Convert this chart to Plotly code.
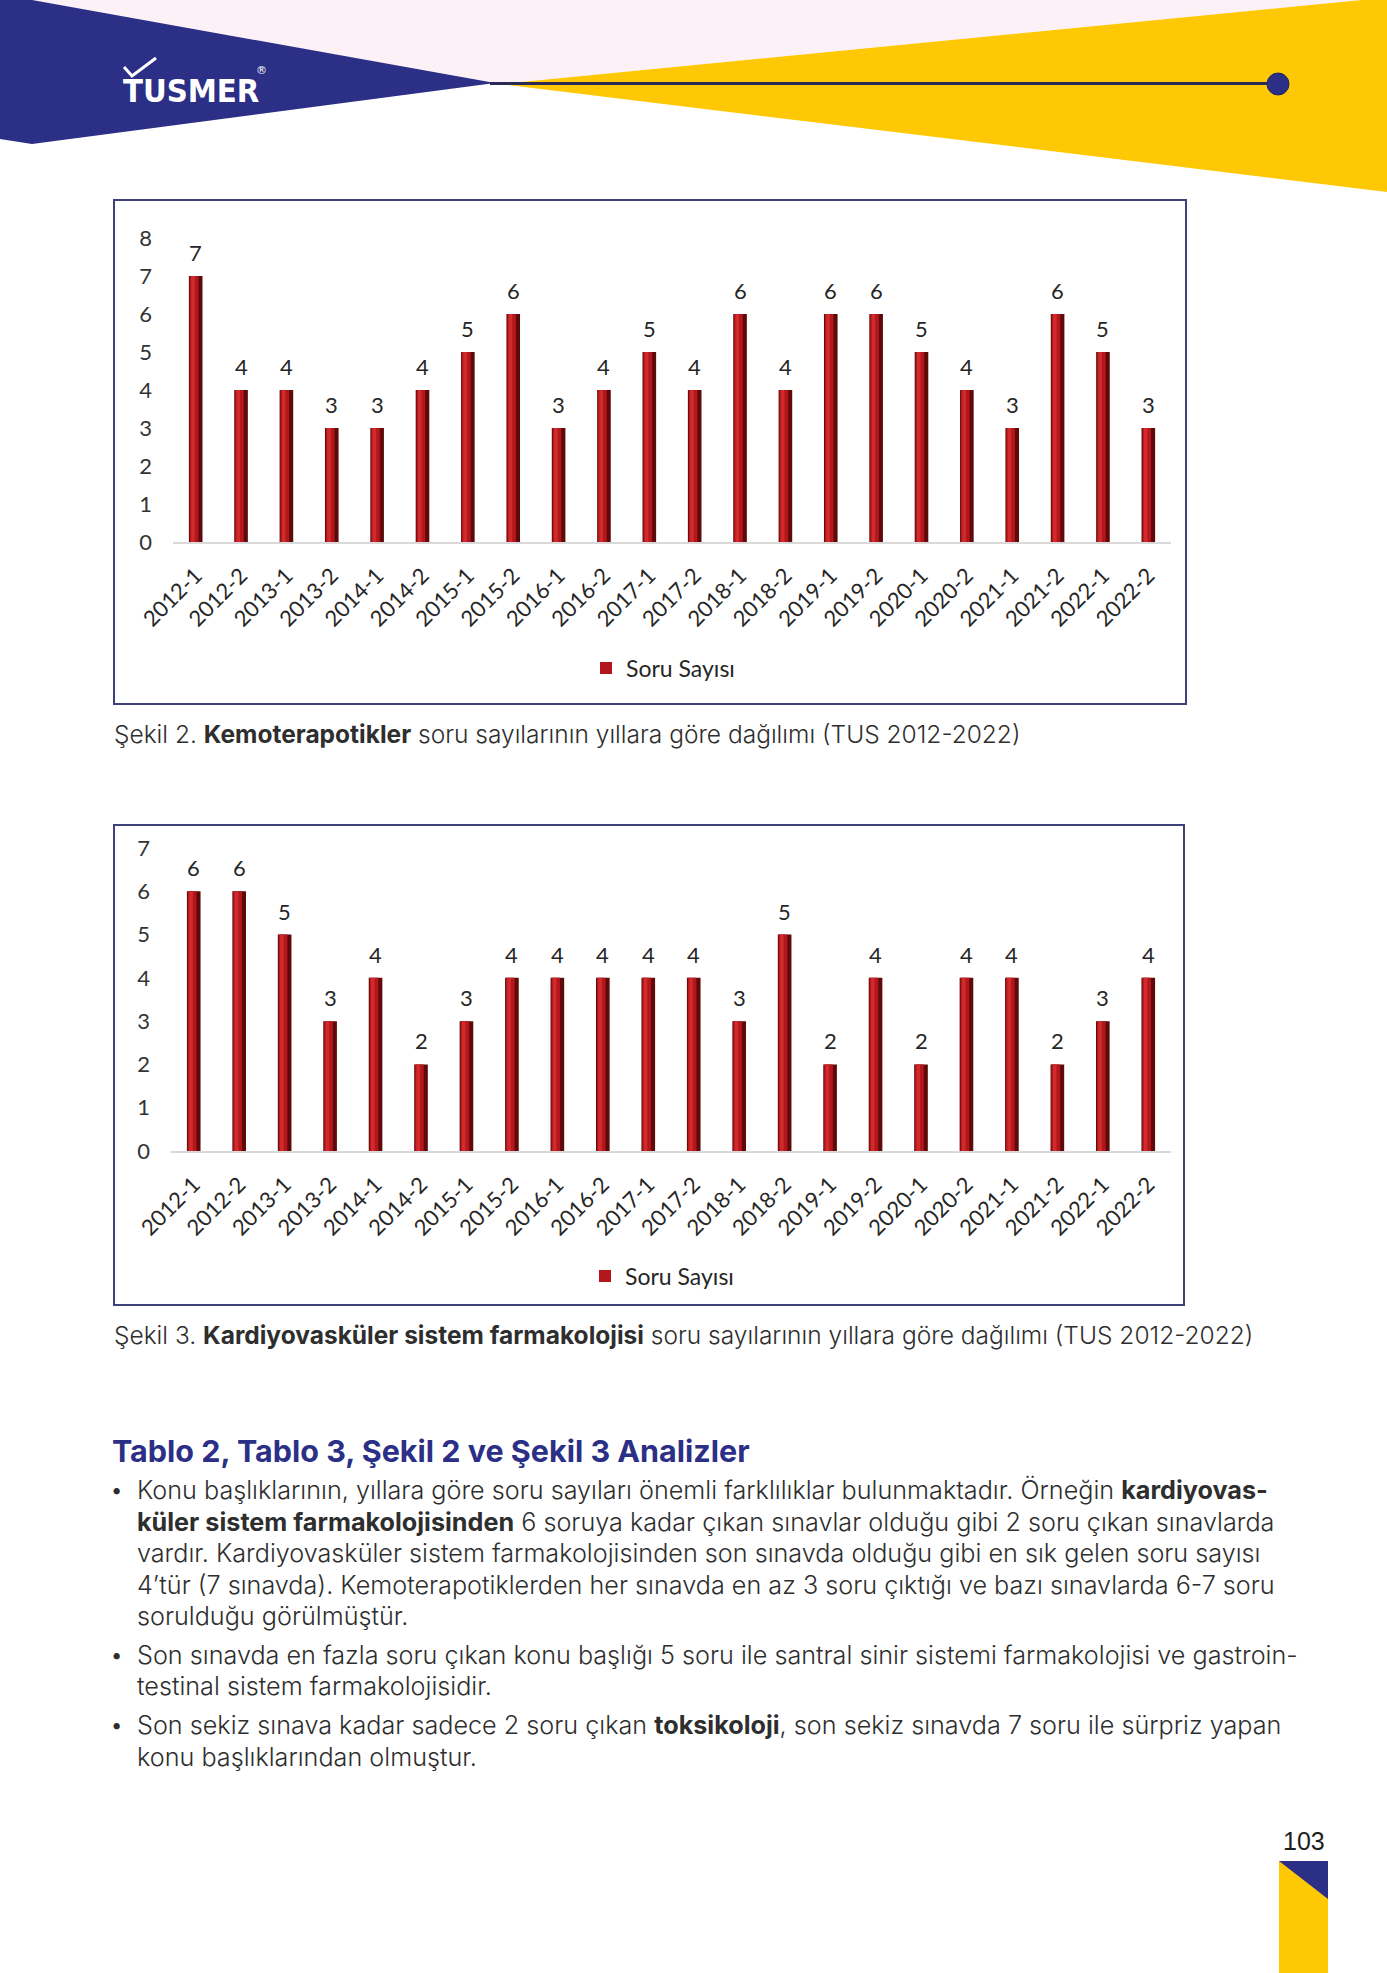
import plotly.graph_objects as go

W, H = 1387, 1973


def px(x):
    return x / W


def py(y):
    return 1 - y / H


# ---------------- data ----------------
categories = ["2012-1", "2012-2", "2013-1", "2013-2", "2014-1", "2014-2", "2015-1", "2015-2",
              "2016-1", "2016-2", "2017-1", "2017-2", "2018-1", "2018-2", "2019-1", "2019-2",
              "2020-1", "2020-2", "2021-1", "2021-2", "2022-1", "2022-2"]
kemo_values = [7, 4, 4, 3, 3, 4, 5, 6, 3, 4, 5, 4, 6, 4, 6, 6, 5, 4, 3, 6, 5, 3]
kardiyo_values = [6, 6, 5, 3, 4, 2, 3, 4, 4, 4, 4, 4, 3, 5, 2, 4, 2, 4, 4, 2, 3, 4]
y1_ticks = [0, 1, 2, 3, 4, 5, 6, 7, 8]
y2_ticks = [0, 1, 2, 3, 4, 5, 6, 7]
series_name = "Soru Sayısı"

caption1 = "Şekil 2. <b>Kemoterapotikler</b> soru sayılarının yıllara göre dağılımı (TUS 2012-2022)"
caption2 = "Şekil 3. <b>Kardiyovasküler sistem farmakolojisi</b> soru sayılarının yıllara göre dağılımı (TUS 2012-2022)"
heading = "Tablo 2, Tablo 3, Şekil 2 ve Şekil 3 Analizler"
body_lines = [
    (True, "Konu başlıklarının, yıllara göre soru sayıları önemli farklılıklar bulunmaktadır. Örneğin <b>kardiyovas-</b>"),
    (False, "<b>küler sistem farmakolojisinden</b> 6 soruya kadar çıkan sınavlar olduğu gibi 2 soru çıkan sınavlarda"),
    (False, "vardır. Kardiyovasküler sistem farmakolojisinden son sınavda olduğu gibi en sık gelen soru sayısı"),
    (False, "4’tür (7 sınavda). Kemoterapotiklerden her sınavda en az 3 soru çıktığı ve bazı sınavlarda 6-7 soru"),
    (False, "sorulduğu görülmüştür."),
    (True, "Son sınavda en fazla soru çıkan konu başlığı 5 soru ile santral sinir sistemi farmakolojisi ve gastroin-"),
    (False, "testinal sistem farmakolojisidir."),
    (True, "Son sekiz sınava kadar sadece 2 soru çıkan <b>toksikoloji</b>, son sekiz sınavda 7 soru ile sürpriz yapan"),
    (False, "konu başlıklarından olmuştur."),
]
body_y = [1490, 1522, 1553, 1585, 1616, 1655, 1686, 1725, 1757]
page_number = "103"

# ---------------- styling ----------------
NAVY = "#2C2F86"
YELLOW = "#FEC804"
PINK = "#FCF1F7"
BOX = "#3E4279"
CHART_FONT = "Lato"
TEXT_FONT = "Inter"
TEXT_COLOR = "#2E2E2E"

bar_layers = [  # colour, offset, width  (cylinder-like shading)
    ("#5E0A0B", -0.15, 0.30),
    ("#B3171B", -0.13, 0.19),
    ("#D02A2D", -0.10, 0.08),
]

fig = go.Figure()


def add_chart(values, xa, ya, legend_name):
    for i, (col, off, wid) in enumerate(bar_layers):
        fig.add_trace(go.Bar(
            x=categories, y=values, name=series_name,
            marker=dict(color=col, line=dict(width=0)),
            offset=off, width=wid,
            xaxis=xa, yaxis=ya,
            showlegend=(i == 1), legend=legend_name,
            hoverinfo="skip" if i else "x+y",
        ))


add_chart(kemo_values, "x", "y", "legend")
add_chart(kardiyo_values, "x2", "y2", "legend2")

annotations = []
for vals, xr, yr in ((kemo_values, "x", "y"), (kardiyo_values, "x2", "y2")):
    for c, v in zip(categories, vals):
        annotations.append(dict(
            x=c, y=v, xref=xr, yref=yr, text=str(v), showarrow=False,
            yanchor="bottom", yshift=8,
            font=dict(family=CHART_FONT, size=22, color="#262626")))

# captions, heading, body text
annotations.append(dict(x=px(112), y=py(734), xref="paper", yref="paper", text=caption1,
                        showarrow=False, xanchor="left", yanchor="middle",
                        font=dict(family=TEXT_FONT, size=24.5, color=TEXT_COLOR, weight=300)))
annotations.append(dict(x=px(112), y=py(1335), xref="paper", yref="paper", text=caption2,
                        showarrow=False, xanchor="left", yanchor="middle",
                        font=dict(family=TEXT_FONT, size=24.5, color=TEXT_COLOR, weight=300)))
annotations.append(dict(x=px(110), y=py(1450), xref="paper", yref="paper", text="<b>" + heading + "</b>",
                        showarrow=False, xanchor="left", yanchor="middle",
                        font=dict(family=TEXT_FONT, size=30.5, color=NAVY)))
for (bullet, line), yy in zip(body_lines, body_y):
    if bullet:
        annotations.append(dict(x=px(116), y=py(yy), xref="paper", yref="paper", text="•",
                                showarrow=False, xanchor="center", yanchor="middle",
                                font=dict(family=TEXT_FONT, size=20, color=TEXT_COLOR)))
    annotations.append(dict(x=px(135), y=py(yy), xref="paper", yref="paper", text=line,
                            showarrow=False, xanchor="left", yanchor="middle",
                            font=dict(family=TEXT_FONT, size=25.2, color=TEXT_COLOR, weight=300)))

# logo
annotations.append(dict(x=px(121), y=py(91), xref="paper", yref="paper", text="<b>TUSMER</b>",
                        showarrow=False, xanchor="left", yanchor="middle",
                        font=dict(family="DejaVu Sans Condensed", size=32.5, color="white")))
annotations.append(dict(x=px(261), y=py(70), xref="paper", yref="paper", text="®",
                        showarrow=False, xanchor="center", yanchor="middle",
                        font=dict(family="DejaVu Sans", size=11, color="white")))
# page number
annotations.append(dict(x=px(1304), y=py(1841), xref="paper", yref="paper", text=page_number,
                        showarrow=False, xanchor="center", yanchor="middle",
                        font=dict(family="Liberation Sans", size=25, color="#1E1E1E")))


def path(points, close=True):
    s = "M " + " L ".join(f"{px(a):.5f},{py(b):.5f}" for a, b in points)
    return s + (" Z" if close else "")


shapes = [
    # pink header band
    dict(type="path", xref="paper", yref="paper", layer="below",
         path=path([(30, 0), (1362, 0), (500, 84), (495, 83)]),
         fillcolor=PINK, line=dict(width=0)),
    # blue wedge
    dict(type="path", xref="paper", yref="paper",
         path=path([(0, 0), (32, 0), (495, 83), (32, 144), (0, 139)]),
         fillcolor=NAVY, line=dict(width=0)),
    # yellow wedge
    dict(type="path", xref="paper", yref="paper",
         path=path([(500, 84), (1362, 0), (1387, 0), (1387, 192)]),
         fillcolor=YELLOW, line=dict(width=0)),
    # line and dot
    dict(type="line", xref="paper", yref="paper", x0=px(490), y0=py(83.5), x1=px(1270), y1=py(83.5),
         line=dict(color="#2A2A55", width=3)),
    dict(type="circle", xref="paper", yref="paper", x0=px(1267), y0=py(73), x1=px(1289), y1=py(95),
         fillcolor=NAVY, line=dict(color="#23265E", width=1)),
    # logo check mark
    dict(type="path", xref="paper", yref="paper",
         path=path([(124, 67), (132, 76), (156, 58)], close=False),
         line=dict(color="white", width=3)),
    # chart boxes
    dict(type="rect", xref="paper", yref="paper", x0=px(114), y0=py(200), x1=px(1186), y1=py(704),
         line=dict(color=BOX, width=2), fillcolor="rgba(0,0,0,0)"),
    dict(type="rect", xref="paper", yref="paper", x0=px(114), y0=py(825), x1=px(1184), y1=py(1305),
         line=dict(color=BOX, width=2), fillcolor="rgba(0,0,0,0)"),
    # page corner
    dict(type="rect", xref="paper", yref="paper", x0=px(1279), y0=py(1861), x1=px(1328), y1=py(1973),
         fillcolor=YELLOW, line=dict(width=0)),
    dict(type="path", xref="paper", yref="paper",
         path=path([(1279, 1861), (1328, 1861), (1328, 1899)]),
         fillcolor=NAVY, line=dict(width=0)),
]

xaxis_common = dict(type="category", showline=True, linecolor="#D9D9D9", linewidth=2,
                    showgrid=False, zeroline=False, ticks="", tickangle=-45,
                    tickfont=dict(family=CHART_FONT, size=22, color="#262626"),
                    ticklabelstandoff=10, fixedrange=True, automargin=False)
yaxis_common = dict(showgrid=False, zeroline=False, showline=False, ticks="",
                    tickfont=dict(family=CHART_FONT, size=22, color="#333333"),
                    ticklabelstandoff=20, fixedrange=True, automargin=False)

fig.update_layout(
    width=W, height=H,
    margin=dict(l=0, r=0, t=0, b=0, pad=0, autoexpand=False),
    paper_bgcolor="white", plot_bgcolor="rgba(0,0,0,0)",
    barmode="overlay",
    xaxis=dict(domain=[px(173), px(1171)], anchor="y", **xaxis_common),
    yaxis=dict(domain=[py(542), py(238)], range=[0, 8], tickvals=y1_ticks, anchor="x", **yaxis_common),
    xaxis2=dict(domain=[px(171), px(1171)], anchor="y2", **xaxis_common),
    yaxis2=dict(domain=[py(1151), py(848)], range=[0, 7], tickvals=y2_ticks, anchor="x2", **yaxis_common),
    legend=dict(x=px(663), y=py(668), xanchor="center", yanchor="middle", orientation="h",
                font=dict(family=CHART_FONT, size=23, color="#262626"), bgcolor="rgba(0,0,0,0)",
                itemwidth=30),
    legend2=dict(x=px(662), y=py(1276), xanchor="center", yanchor="middle", orientation="h",
                 font=dict(family=CHART_FONT, size=23, color="#262626"), bgcolor="rgba(0,0,0,0)",
                 itemwidth=30),
    annotations=annotations,
    shapes=shapes,
)

fig.write_html(
    "out.html",
    config={"displayModeBar": False},
    post_script="document.body.style.margin='0';document.body.style.padding='0';"
                "document.body.style.overflow='hidden';",
)
